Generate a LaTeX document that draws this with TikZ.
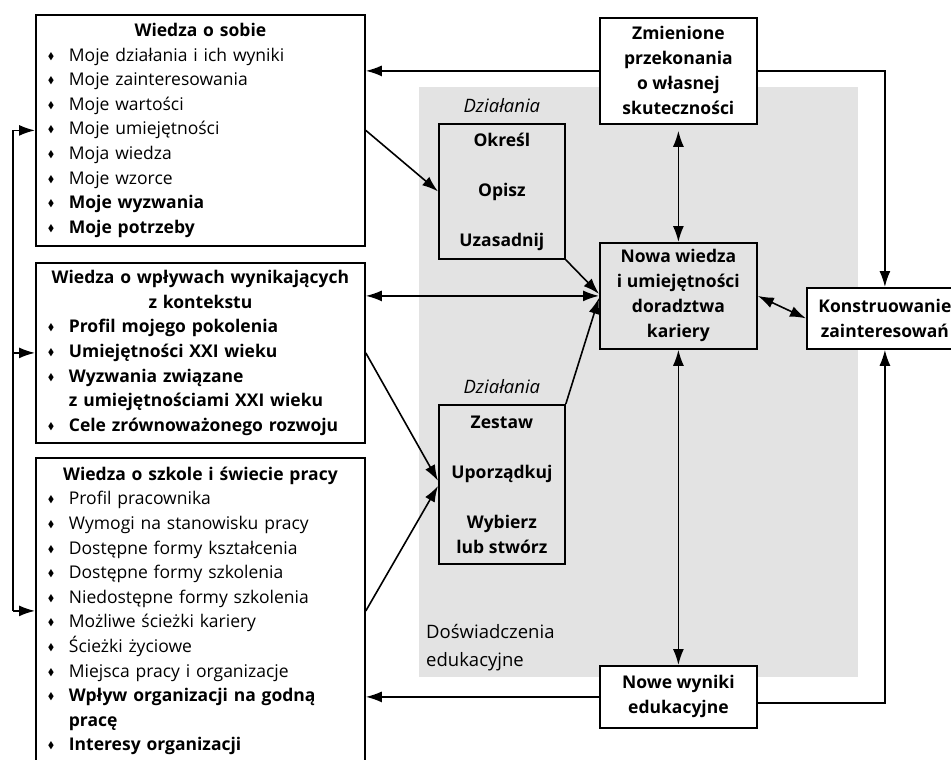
\documentclass[tikz,border=0pt]{standalone}
\usepackage{amssymb}
\usepackage{graphicx}
\usepackage{fontspec}
\setmainfont{Open Sans}
\usetikzlibrary{arrows.meta,positioning}

\definecolor{szary}{RGB}{227,227,227}
\newcommand{\punkt}[1]{\par\hangindent=25pt\hangafter=1\noindent\hbox to 25pt{\hskip4pt\raisebox{2pt}{\scalebox{0.55}{$\blacklozenge$}}\hfil}#1}

\tikzset{
  lista/.style={draw, line width=1.8pt, anchor=north west, text width=313pt, inner xsep=8pt, inner ysep=0pt, minimum width=329pt, font=\fontsize{17.5}{24.6}\selectfont},
  blok/.style={draw, line width=1.8pt, anchor=north west, align=center, inner sep=0pt, font=\bfseries\fontsize{17.5}{25}\selectfont},
  strz/.style={line width=1.6pt, -{Latex[length=16pt,width=11pt]}},
  strz2/.style={line width=1.6pt, {Latex[length=16pt,width=11pt]}-{Latex[length=16pt,width=11pt]}},
}

\begin{document}
\begin{tikzpicture}[x=1pt, y=-1pt]
        \path[fill=white, use as bounding box] (0,0) rectangle (951,760);
        \clip (0,0) rectangle (951,760);

        % Doswiadczenia edukacyjne (tlo)
        \fill[szary] (419,87) rectangle (858,677);
        \node[anchor=north west, align=left, inner sep=0pt, font=\fontsize{18.5}{28}\selectfont] (dosw) at (426,624) {Doświadczenia\\edukacyjne};

        % Wiedza - lewa kolumna
        \node[lista, minimum height=231pt] (b1) at (35,14) {\raggedright
            {\centering\bfseries Wiedza o sobie\par}
            \punkt{Moje działania i ich wyniki}
            \punkt{Moje zainteresowania}
            \punkt{Moje wartości}
            \punkt{Moje umiejętności}
            \punkt{Moja wiedza}
            \punkt{Moje wzorce}
            \punkt{\textbf{Moje wyzwania}}
            \punkt{\textbf{Moje potrzeby}}};
        \node[lista, minimum height=180pt] (b2) at (35,262) {\raggedright
            {\centering\bfseries Wiedza o wpływach wynikających\\z kontekstu\par}
            \bfseries
            \punkt{Profil mojego pokolenia}
            \punkt{Umiejętności XXI wieku}
            \punkt{Wyzwania związane\newline z umiejętnościami XXI wieku}
            \punkt{Cele zrównoważonego rozwoju}};
        \node[lista, minimum height=306pt] (b3) at (35,457) {\raggedright
            {\centering\bfseries Wiedza o szkole i świecie pracy\par}
            \punkt{Profil pracownika}
            \punkt{Wymogi na stanowisku pracy}
            \punkt{Dostępne formy kształcenia}
            \punkt{Dostępne formy szkolenia}
            \punkt{Niedostępne formy szkolenia}
            \punkt{Możliwe ścieżki kariery}
            \punkt{Ścieżki życiowe}
            \punkt{Miejsca pracy i organizacje}
            \punkt{\textbf{Wpływ organizacji na godną\newline pracę}}
            \punkt{\textbf{Interesy organizacji}}};

        % Dzialania
        \node[blok, minimum width=126pt, minimum height=135pt] (op) at (438,123) {Określ\\[25pt]Opisz\\[25pt]Uzasadnij};
        \node[blok, minimum width=126pt, minimum height=159pt] (ze) at (438,404) {Zestaw\\[25pt]Uporządkuj\\[25pt]Wybierz\\lub stwórz};
        \node[above=10pt of op, inner sep=0pt, font=\itshape\fontsize{18.5}{25}\selectfont] (dz1) {Działania};
        \node[above=10pt of ze, inner sep=0pt, font=\itshape\fontsize{18.5}{25}\selectfont] (dz2) {Działania};

        % Srodkowa kolumna
        \node[blok, fill=white, minimum width=157pt, minimum height=106pt] (zm) at (599,17) {Zmienione\\przekonania\\o własnej\\skuteczności};
        \node[blok, minimum width=157pt, minimum height=106pt] (nw) at (599,242) {Nowa wiedza\\i umiejętności\\doradztwa\\kariery};
        \node[blok, fill=white, minimum width=157pt, minimum height=62pt] (nr) at (599,665) {Nowe wyniki\\edukacyjne};
        \node[blok, fill=white, minimum width=156pt, minimum height=61pt] (ko) at (806,287) {Konstruowanie\\zainteresowań};

        % Petla zwrotna po lewej
        \coordinate (fb) at (13,0);
        \draw[line width=1.6pt] (b1.west -| fb) -- (b3.west -| fb);
        \foreach \b in {b1,b2,b3}
            \draw[strz] (\b.west -| fb) -- (\b.west);

        % Polaczenia
        \draw[strz] (b1.east) -- (op.west);
        \draw[strz2] (b2.east |- nw.west) -- (nw.west);
        \draw[strz] (b2.east) -- ([yshift=3.5pt]ze.west);
        \draw[strz] (b3.east) -- ([yshift=-1.5pt]ze.west);
        \draw[strz] (op.south east) -- ([yshift=2pt]nw.west);
        \draw[strz] (ze.north east) -- ([yshift=-2pt]nw.west);
        \draw[strz2, shorten <=6pt] (zm.south) -- (nw.north);
        \draw[strz2] (nw.south) -- (nr.north);
        \draw[strz2] (nw.east) -- (ko.west);
        \draw[strz] (zm.west) -- (zm.west -| b1.east);
        \draw[strz] (zm.east) -| (ko.north);
        \draw[strz] (nr.west) -- (nr.west -| b3.east);
        \draw[strz] ([yshift=-6pt]nr.east) -| (ko.south);
\end{tikzpicture}
\end{document}
